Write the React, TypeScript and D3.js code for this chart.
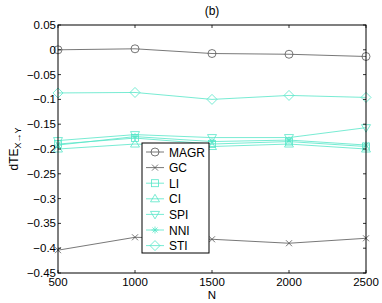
import React from "react";
import * as d3 from "d3";

const Ns = [500, 1000, 1500, 2000, 2500];
const seriesNames = ["MAGR", "GC", "LI", "CI", "SPI", "NNI", "STI"];
const MAGR = [0.0, 0.002, -0.0075, -0.009, -0.0135];
const GC = [-0.404, -0.378, -0.382, -0.39, -0.38];
const LI = [-0.19, -0.178, -0.19, -0.185, -0.195];
const CI = [-0.2, -0.19, -0.195, -0.19, -0.2];
const SPI = [-0.183, -0.171, -0.177, -0.177, -0.157];
const NNI = [-0.192, -0.175, -0.185, -0.182, -0.192];
const STI = [-0.087, -0.086, -0.1, -0.092, -0.096];
const yTicks = [0.05, 0, -0.05, -0.1, -0.15, -0.2, -0.25, -0.3, -0.35, -0.4, -0.45];
const yTickLabels = ["0.05", "0", "\u22120.05", "\u22120.1", "\u22120.15", "\u22120.2", "\u22120.25", "\u22120.3", "\u22120.35", "\u22120.4", "\u22120.45"];

const dark = "#555555";
const cyan = "#55e6c8";
const series = [
  { name: "MAGR", values: MAGR, color: dark, marker: "circle" },
  { name: "GC", values: GC, color: dark, marker: "x" },
  { name: "LI", values: LI, color: cyan, marker: "square" },
  { name: "CI", values: CI, color: cyan, marker: "tri" },
  { name: "SPI", values: SPI, color: cyan, marker: "trid" },
  { name: "NNI", values: NNI, color: cyan, marker: "star" },
  { name: "STI", values: STI, color: cyan, marker: "diamond" },
];

function Marker({ type, x, y, color }: { type: string; x: number; y: number; color: string }) {
  const s = 4;
  const common = { fill: "none", stroke: color, strokeWidth: 0.8 };
  switch (type) {
    case "circle":
      return <circle cx={x} cy={y} r={4} {...common} />;
    case "x":
      return <path d={`M${x - 3},${y - 3}L${x + 3},${y + 3}M${x - 3},${y + 3}L${x + 3},${y - 3}`} {...common} />;
    case "square":
      return <rect x={x - 3.5} y={y - 3.5} width={7} height={7} {...common} />;
    case "tri":
      return <path d={`M${x},${y - s - 0.5}L${x + s + 0.5},${y + s - 1}L${x - s - 0.5},${y + s - 1}Z`} {...common} />;
    case "trid":
      return <path d={`M${x},${y + s + 0.5}L${x + s + 0.5},${y - s + 1}L${x - s - 0.5},${y - s + 1}Z`} {...common} />;
    case "star":
      return (
        <path
          d={`M${x - 3.5},${y}L${x + 3.5},${y}M${x},${y - 3.5}L${x},${y + 3.5}M${x - 2.5},${y - 2.5}L${x + 2.5},${y + 2.5}M${x - 2.5},${y + 2.5}L${x + 2.5},${y - 2.5}`}
          {...common}
        />
      );
    case "diamond":
      return <path d={`M${x},${y - 5}L${x + 5},${y}L${x},${y + 5}L${x - 5},${y}Z`} {...common} />;
  }
  return null;
}

export default function App() {
  const W = 382, H = 303;
  const L = 58, R = 366, T = 25, B = 273;
  const x = d3.scaleLinear().domain([500, 2500]).range([L, R]);
  const y = d3.scaleLinear().domain([-0.45, 0.05]).range([B, T]);
  const line = d3.line<number>().x((_, i) => x(Ns[i])).y((d) => y(d));
  const font = "Liberation Sans, Arial, sans-serif";
  const legX = 142, legY = 143, legW = 67, legH = 110;
  return (
    <svg width={W} height={H} style={{ position: "absolute", left: 0, top: 0 }} fontFamily={font}>
      <rect x={0} y={0} width={W} height={H} fill="white" />
      {series.map((s) => (
        <g key={s.name}>
          <path d={line(s.values) || ""} fill="none" stroke={s.color} strokeWidth={0.8} />
          {s.values.map((v, i) => (
            <Marker key={i} type={s.marker} x={x(Ns[i])} y={y(v)} color={s.color} />
          ))}
        </g>
      ))}
      <rect x={L} y={T} width={R - L} height={B - T} fill="none" stroke="black" strokeWidth={1} />
      {Ns.map((n) => (
        <g key={n}>
          <line x1={x(n)} x2={x(n)} y1={B} y2={B - 3} stroke="black" strokeWidth={0.8} />
          <line x1={x(n)} x2={x(n)} y1={T} y2={T + 3} stroke="black" strokeWidth={0.8} />
          <text x={x(n)} y={B + 12.5} fontSize={11.5} textAnchor="middle">{n}</text>
        </g>
      ))}
      {yTicks.map((t, i) => (
        <g key={t}>
          <line x1={L} x2={L + 3} y1={y(t)} y2={y(t)} stroke="black" strokeWidth={0.8} />
          <line x1={R} x2={R - 3} y1={y(t)} y2={y(t)} stroke="black" strokeWidth={0.8} />
          <text x={L - 2} y={y(t) + 4} fontSize={11.5} textAnchor="end">{yTickLabels[i]}</text>
        </g>
      ))}
      <text x={(L + R) / 2} y={15} fontSize={12} textAnchor="middle">(b)</text>
      <text x={(L + R) / 2} y={299} fontSize={11.5} textAnchor="middle">N</text>
      <text transform={`translate(18,${(T + B) / 2}) rotate(-90)`} fontSize={12} textAnchor="middle">
        dTE<tspan fontSize={9} dy={3}>X{"\u2192"}Y</tspan>
      </text>
      <rect x={legX} y={legY} width={legW} height={legH} fill="white" stroke="black" strokeWidth={1} />
      {series.map((s, i) => {
        const ly = legY + 9 + i * 15.6;
        return (
          <g key={s.name}>
            <line x1={legX + 4} x2={legX + 22} y1={ly} y2={ly} stroke={s.color} strokeWidth={0.8} />
            <Marker type={s.marker} x={legX + 13} y={ly} color={s.color} />
            <text x={legX + 27} y={ly + 4.5} fontSize={12}>{seriesNames[i]}</text>
          </g>
        );
      })}
    </svg>
  );
}
